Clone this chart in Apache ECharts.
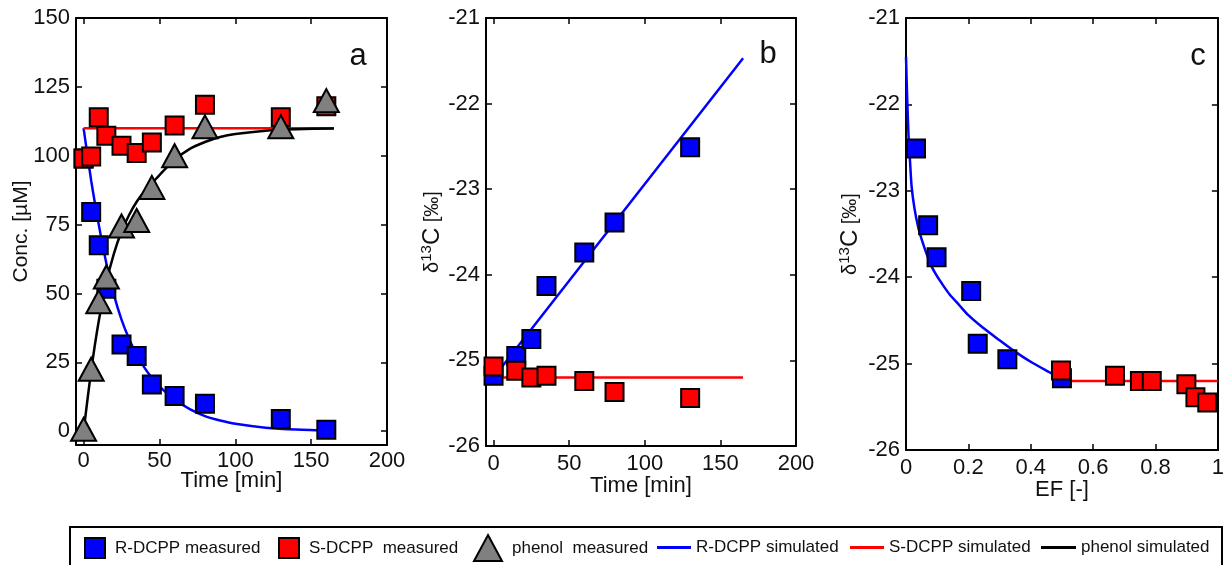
<!DOCTYPE html>
<html>
<head>
<meta charset="utf-8">
<script src="https://cdn.jsdelivr.net/npm/echarts@6/dist/echarts.min.js"></script>
<style>
html,body{margin:0;padding:0;background:#fff;}
#chart{width:1227px;height:565px;}
</style>
</head>
<body>
<div id="chart"></div>
<script>
// ---------- Data ----------
// Panel a: concentrations vs time
const timeA = [0, 5, 10, 15, 25, 35, 45, 60, 80, 130, 160];
const rMeasA = [99, 79.6, 67.5, 51.7, 31.5, 27.3, 17, 12.8, 10, 4.4, 0.5];
const sMeasA = [99, 99.7, 114, 107.3, 103.6, 101, 104.8, 111, 118.5, 114, 118];
const pMeasA = [0.7, 22.5, 47, 56, 74.5, 76.5, 88.5, 100, 110.5, 110.5, 120];

const simT = [0, 5, 10, 15, 20, 25, 30, 35, 40, 45, 50, 60, 70, 80, 90, 100, 120, 140, 165];
const rSimA = [110, 91, 75, 61, 49.5, 40.5, 33.5, 27.8, 23.2, 19.4, 16.3, 11.5, 8, 5.5, 3.9, 2.7, 1.3, 0.6, 0.2];
const pSimA = [0, 22, 40, 54, 64.5, 72.5, 78.5, 83.3, 87, 90, 93, 98.5, 102.5, 105, 106.8, 107.9, 109.1, 109.6, 109.9];
const flatT = [0, 165];
const sSimA = [110, 110];

// Panel b: delta13C vs time
const timeB = [0, 15, 25, 35, 60, 80, 130];
const rMeasB = [-25.18, -24.95, -24.75, -24.13, -23.74, -23.39, -22.51];
const sMeasB = [-25.07, -25.12, -25.2, -25.18, -25.24, -25.37, -25.44];
const lineTB = [0, 165];
const rSimB = [-25.2, -21.47];
const sSimB = [-25.2, -25.2];

// Panel c: delta13C vs EF
const efR = [0.032, 0.071, 0.098, 0.209, 0.23, 0.325, 0.5];
const rMeasC = [-22.51, -23.4, -23.77, -24.16, -24.77, -24.95, -25.17];
const efS = [0.497, 0.67, 0.75, 0.788, 0.899, 0.928, 0.966];
const sMeasC = [-25.08, -25.14, -25.2, -25.2, -25.24, -25.39, -25.45];
const efSimR = [0, 0.004, 0.008, 0.012, 0.018, 0.027, 0.039, 0.05, 0.066, 0.08, 0.098, 0.12, 0.14, 0.17, 0.2, 0.245, 0.3, 0.353, 0.405, 0.46, 0.5];
const rSimC = [-21.45, -21.95, -22.35, -22.6, -22.95, -23.2, -23.42, -23.56, -23.73, -23.86, -23.98, -24.1, -24.2, -24.32, -24.44, -24.58, -24.73, -24.87, -24.99, -25.1, -25.18];
const efSimS = [0.5, 1];
const sSimC = [-25.2, -25.2];

// Tick labels
const ticksTime = [0, 50, 100, 150, 200];
const ticksConc = [0, 25, 50, 75, 100, 125, 150];

const names = {
  rm: 'R-DCPP measured', sm: 'S-DCPP  measured', pm: 'phenol  measured',
  rs: 'R-DCPP simulated', ss: 'S-DCPP simulated', ps: 'phenol simulated'
};

// ---------- Helpers ----------
const FONT = '"Liberation Sans", Arial, sans-serif';
const zip = (xs, ys) => xs.map((x, i) => [x, ys[i]]);
const BLUE = '#0000ff', RED = '#ff0000', GRAY = '#808080';
const TICK = { inside: true, length: 6, lineStyle: { color: '#000', width: 1.5 } };

function baseAxis(extra) {
  return Object.assign({
    type: 'value',
    nameMoveOverlap: false,
    axisLine: { show: true, onZero: false, lineStyle: { color: '#000', width: 2 } },
    axisTick: Object.assign({ show: true }, TICK),
    axisLabel: { show: true, color: '#111', fontSize: 22, fontFamily: FONT, margin: 6 },
    splitLine: { show: false }
  }, extra);
}
function mirror(ax, pos) {
  const m = JSON.parse(JSON.stringify(ax));
  m.position = pos;
  m.axisLabel = { show: false, customValues: ax.axisLabel.customValues };
  delete m.name;
  return m;
}

const grids = [
  { left: 76, top: 18, width: 311, height: 427 },
  { left: 486, top: 18, width: 310, height: 428 },
  { left: 906, top: 18, width: 314, height: 432 }
];

const nameStyle = { fontSize: 22, fontFamily: FONT, color: '#111' };
const lbl = (margin, extra) => Object.assign({ color: '#111', fontSize: 22, fontFamily: FONT, margin }, extra || {});

const xA = baseAxis({ gridIndex: 0, min: -5, max: 200, position: 'bottom',
  axisLabel: lbl(5, { customValues: ticksTime }),
  axisTick: Object.assign({ customValues: ticksTime }, TICK),
  name: 'Time [min]', nameLocation: 'middle', nameGap: 25, nameTextStyle: nameStyle });
const yA = baseAxis({ gridIndex: 0, min: -5, max: 150, position: 'left',
  axisLabel: lbl(6, { customValues: ticksConc }),
  axisTick: Object.assign({ customValues: ticksConc }, TICK),
  name: 'Conc. [\u00b5M]', nameLocation: 'middle', nameGap: 44,
  nameTextStyle: { fontSize: 21, fontFamily: FONT, color: '#111' } });

const xB = baseAxis({ gridIndex: 1, min: -5, max: 200, position: 'bottom',
  axisLabel: lbl(7, { customValues: ticksTime }),
  axisTick: Object.assign({ customValues: ticksTime }, TICK),
  name: 'Time [min]', nameLocation: 'middle', nameGap: 29, nameTextStyle: nameStyle });
const deltaName = '{d|\u03b4}{s|13}{c|C}{b| [\u2030]}';
const deltaRich = {
  d: { fontSize: 20, fontFamily: FONT, color: '#111' },
  s: { fontSize: 15, fontFamily: FONT, color: '#111', padding: [0, 0, 12, 0] },
  c: { fontSize: 24, fontFamily: FONT, color: '#111' },
  b: { fontSize: 20, fontFamily: FONT, color: '#111' }
};
const yB = baseAxis({ gridIndex: 1, min: -26, max: -21, interval: 1, position: 'left',
  name: deltaName, nameLocation: 'middle', nameGap: 40,
  nameTextStyle: { rich: deltaRich } });

const xC = baseAxis({ gridIndex: 2, min: 0, max: 1, interval: 0.2, position: 'bottom',
  axisLabel: lbl(7),
  name: 'EF [-]', nameLocation: 'middle', nameGap: 29, nameTextStyle: nameStyle });
const yC = baseAxis({ gridIndex: 2, min: -26, max: -21, interval: 1, position: 'left',
  name: deltaName, nameLocation: 'middle', nameGap: 42,
  nameTextStyle: { rich: deltaRich } });

const xAxes = [xA, mirror(xA, 'top'), xB, mirror(xB, 'top'), xC, mirror(xC, 'top')];
const yAxes = [yA, mirror(yA, 'right'), yB, mirror(yB, 'right'), yC, mirror(yC, 'right')];

function lineS(name, data, color, ax, smooth) {
  return { name, type: 'line', data, xAxisIndex: ax, yAxisIndex: ax, symbol: 'none',
    showSymbol: false, smooth: smooth ? 0.25 : false,
    lineStyle: { color, width: 2.5 }, itemStyle: { color }, z: 2, silent: true, animation: false };
}
function squareS(name, data, color, ax, z) {
  return { name, type: 'scatter', data, xAxisIndex: ax, yAxisIndex: ax, symbol: 'rect', symbolSize: 18,
    itemStyle: { color, borderColor: '#000', borderWidth: 2, opacity: 1 }, z: z || 3, animation: false };
}
function triS(name, data, ax) {
  return { name, type: 'scatter', data, xAxisIndex: ax, yAxisIndex: ax, symbol: 'triangle', symbolSize: [25, 23],
    itemStyle: { color: GRAY, borderColor: '#000', borderWidth: 2, opacity: 1 }, z: 5, animation: false };
}

const series = [
  // panel a
  lineS(names.rs, zip(simT, rSimA), BLUE, 0, true),
  lineS(names.ss, zip(flatT, sSimA), RED, 0, false),
  lineS(names.ps, zip(simT, pSimA), '#000', 0, true),
  squareS(names.rm, zip(timeA, rMeasA), BLUE, 0, 3),
  squareS(names.sm, zip(timeA, sMeasA), RED, 0, 4),
  triS(names.pm, zip(timeA, pMeasA), 0),
  // panel b
  lineS(names.rs, zip(lineTB, rSimB), BLUE, 2, false),
  lineS(names.ss, zip(lineTB, sSimB), RED, 2, false),
  squareS(names.rm, zip(timeB, rMeasB), BLUE, 2, 3),
  squareS(names.sm, zip(timeB, sMeasB), RED, 2, 4),
  // panel c
  lineS(names.rs, zip(efSimR, rSimC), BLUE, 4, true),
  lineS(names.ss, zip(efSimS, sSimC), RED, 4, false),
  squareS(names.rm, zip(efR, rMeasC), BLUE, 4, 3),
  squareS(names.sm, zip(efS, sMeasC), RED, 4, 4)
];

function legendItem(name, left, top, w, h, measured, icon) {
  const l = { left, top, padding: 0, itemGap: 0, itemWidth: w, itemHeight: h,
    data: [icon ? { name, icon } : name],
    selectedMode: false,
    textStyle: { fontSize: 17, fontFamily: FONT, color: '#111', padding: measured ? [0, 0, 0, 5] : [0, 0, 0, 0] } };
  if (measured) l.itemStyle = { borderColor: '#000', borderWidth: 2 };
  return l;
}

const legends = [
  legendItem(names.rm, 84, 537, 20, 20, true),
  legendItem(names.sm, 278, 537, 20, 20, true),
  legendItem(names.pm, 473, 534, 28, 26, true),
  legendItem(names.rs, 657, 539, 34, 3, false, 'rect'),
  legendItem(names.ss, 850, 539, 34, 3, false, 'rect'),
  legendItem(names.ps, 1041, 539, 35, 3, false, 'rect')
];

const chart = echarts.init(document.getElementById('chart'), null, { renderer: 'canvas' });
chart.setOption({
  animation: false,
  backgroundColor: '#fff',
  grid: grids,
  xAxis: xAxes,
  yAxis: yAxes,
  legend: legends,
  series,
  graphic: [
    { type: 'rect', shape: { x: 70, y: 527, width: 1152, height: 60 }, style: { fill: 'none', stroke: '#000', lineWidth: 2 }, z: 0 },
    { type: 'text', x: 358, y: 56, style: { text: 'a', font: '31px ' + FONT, fill: '#111', textAlign: 'center', textVerticalAlign: 'middle' } },
    { type: 'text', x: 768, y: 54, style: { text: 'b', font: '31px ' + FONT, fill: '#111', textAlign: 'center', textVerticalAlign: 'middle' } },
    { type: 'text', x: 1198, y: 56, style: { text: 'c', font: '31px ' + FONT, fill: '#111', textAlign: 'center', textVerticalAlign: 'middle' } }
  ]
});
</script>
</body>
</html>
